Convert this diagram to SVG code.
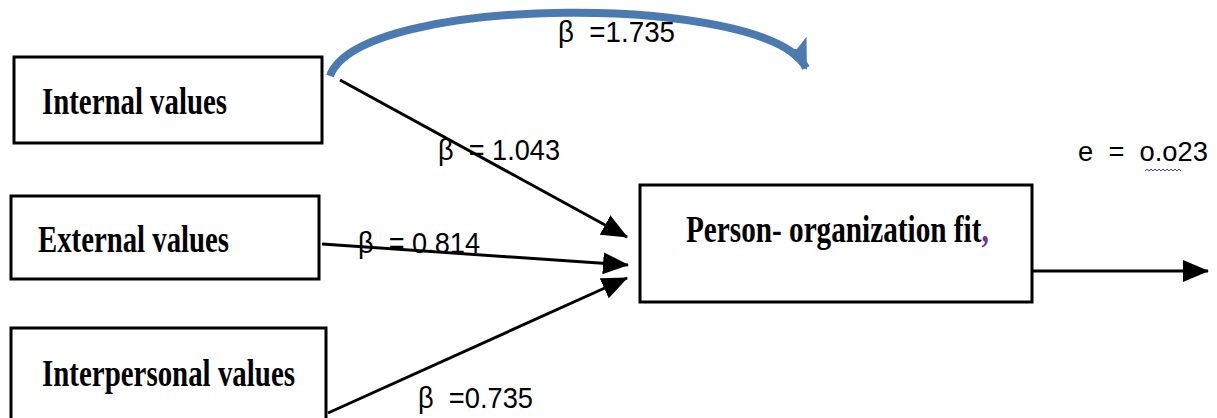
<svg xmlns="http://www.w3.org/2000/svg" width="1217" height="418" viewBox="0 0 1217 418">
<style>
.box{fill:#fff;stroke:#000;stroke-width:3}
.lbl{font-family:"Liberation Serif","Times New Roman",serif;font-weight:bold;font-size:37px;fill:#000}
.beta{font-family:"Liberation Sans",Arial,sans-serif;font-size:30px;fill:#000;white-space:pre}
.edge{stroke:#000;stroke-width:3;fill:none}
</style>
<defs>
<marker id="ah" markerWidth="26" markerHeight="22" refX="25" refY="11" orient="auto" markerUnits="userSpaceOnUse">
<path d="M0,0 L26,11 L0,22 Z" fill="#000"/>
</marker>
<marker id="bh" markerWidth="32" markerHeight="32" refX="28" refY="16" orient="auto" markerUnits="userSpaceOnUse">
<path d="M0,2 L30,16 L0,30 L7,16 Z" fill="#4a7ab0"/>
</marker>
</defs>
<g id="connectors">
<path d="M330 76 C360 -7, 770 -7, 806 68" stroke="#4a7ab0" stroke-width="8" fill="none" marker-end="url(#bh)"/>
<line class="edge" x1="340" y1="80" x2="627" y2="237" marker-end="url(#ah)"/>
<line class="edge" x1="322" y1="244" x2="628" y2="265" marker-end="url(#ah)"/>
<line class="edge" x1="328" y1="413" x2="627" y2="278" marker-end="url(#ah)"/>
<line class="edge" x1="1028" y1="271" x2="1208" y2="271" stroke-width="2" marker-end="url(#ah)"/>
</g>
<g id="internal">
<rect class="box" x="14" y="57" width="308" height="86"/>
<text class="lbl" x="42" y="114" textLength="185" lengthAdjust="spacingAndGlyphs">Internal values</text>
</g>
<g id="external">
<rect class="box" x="11" y="196" width="308" height="83"/>
<text class="lbl" x="38" y="252" textLength="191" lengthAdjust="spacingAndGlyphs">External values</text>
</g>
<g id="interpersonal">
<rect class="box" x="11" y="328" width="315" height="95"/>
<text class="lbl" x="42" y="386" textLength="253" lengthAdjust="spacingAndGlyphs">Interpersonal values</text>
</g>
<g id="pofit">
<rect class="box" x="640" y="185" width="392" height="117"/>
<text class="lbl" transform="translate(686,242) scale(0.79,1)" x="0" y="0">Person- organization fit<tspan style="fill:#7030a0">,</tspan></text>
</g>
<g id="labels">
<text class="beta" x="558" y="42" textLength="117" lengthAdjust="spacingAndGlyphs" xml:space="preserve">β  =1.735</text>
<text class="beta" x="438" y="160" textLength="122" lengthAdjust="spacingAndGlyphs" xml:space="preserve">β  = 1.043</text>
<text class="beta" x="358" y="253" textLength="122" lengthAdjust="spacingAndGlyphs" xml:space="preserve">β  = 0.814</text>
<text class="beta" x="418" y="408" textLength="115" lengthAdjust="spacingAndGlyphs" xml:space="preserve">β  =0.735</text>
<text class="beta" x="1078" y="161" style="font-size:28px" textLength="130" lengthAdjust="spacingAndGlyphs" xml:space="preserve">e  =  o.o23</text>
<path d="M1145 171 l2 -2 l2 2 l2 -2 l2 2 l2 -2 l2 2 l2 -2 l2 2 l2 -2 l2 2 l2 -2 l2 2 l2 -2 l2 2 l2 -2 l2 2 l2 -2 l2 2" stroke="#3b3bff" stroke-width="1" fill="none"/>
</g>
</svg>
